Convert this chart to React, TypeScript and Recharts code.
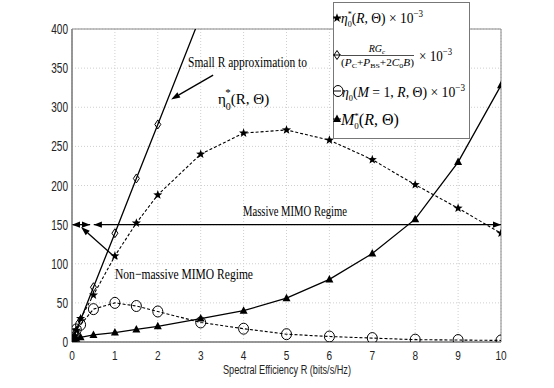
import React from 'react';
import { LineChart, Line, XAxis, YAxis, CartesianGrid, ReferenceLine, ReferenceArea, Legend } from 'recharts';

// spectral efficiency R (bits/s/Hz) sample points
const rPoints = [0, 0.05, 0.1, 0.2, 0.5, 1, 1.5, 2, 3, 4, 5, 6, 7, 8, 9, 10];
const etaStar = [0, 7, 15, 30, 60, 110, 152, 188, 240, 267, 271, 258, 233, 201, 171, 139];
const etaSingle = [0, 10, 16, 22, 42, 50, 46, 39, 25, 17, 10, 7, 5, 3, 2.5, 2];
const mStar = [0, 2, 4, 6, 9, 12, 16, 20, 30, 40, 56, 80, 113, 157, 230, 328];

// small R approximation (straight line, leaves the plot above 400)
const approxR = [0, 0.05, 0.1, 0.2, 0.5, 1, 1.5, 2, 3];
const approxVals = [0, 7, 14, 28, 70, 139, 209, 278, 417];
const approxLastMarker = 2;

const xTicks = [0, 1, 2, 3, 4, 5, 6, 7, 8, 9, 10];
const yTicks = [0, 50, 100, 150, 200, 250, 300, 350, 400];

// regime arrows at M = 150
const regimeLevel = 150;
const nonMassiveEnds = [0, 0.42];
const massiveEnds = [0.51, 10];

// annotation pointers: [tail, tip] in data units
const approxPointer = [{ x: 3.29, y: 341 }, { x: 2.31, y: 310 }];
const nonMassivePointer = [{ x: 1.05, y: 106 }, { x: 0.21, y: 147 }];

const toPoints = (xs: number[], ys: number[]) => xs.map((x, i) => ({ x, y: ys[i] }));

const starData = toPoints(rPoints, etaStar);
const circleData = toPoints(rPoints, etaSingle);
const triData = toPoints(rPoints, mStar);
const diamondData = toPoints(approxR, approxVals);
const nonMassiveData = nonMassiveEnds.map((x) => ({ x, y: regimeLevel }));
const massiveData = massiveEnds.map((x) => ({ x, y: regimeLevel }));

const starPath = (cx: number, cy: number, ro: number, ri: number) => {
  const pts: string[] = [];
  for (let i = 0; i < 10; i++) {
    const r = i % 2 === 0 ? ro : ri;
    const a = -Math.PI / 2 + (i * Math.PI) / 5;
    pts.push(`${cx + r * Math.cos(a)},${cy + r * Math.sin(a)}`);
  }
  return pts.join(' ');
};

const StarMark = ({ cx, cy }: any) => <polygon points={starPath(cx, cy, 4.8, 2)} fill="#000" />;
const DiamondMark = ({ cx, cy }: any) => (
  <polygon points={`${cx},${cy - 4.5} ${cx + 3},${cy} ${cx},${cy + 4.5} ${cx - 3},${cy}`} fill="none" stroke="#000" strokeWidth={1} />
);
const CircleMark = ({ cx, cy }: any) => <ellipse cx={cx} cy={cy} rx={5} ry={5.5} fill="none" stroke="#000" strokeWidth={1} />;
const TriMark = ({ cx, cy }: any) => (
  <polygon points={`${cx},${cy - 4.5} ${cx + 4},${cy + 3} ${cx - 4},${cy + 3}`} fill="#000" />
);

const starDot = (p: any) => <StarMark key={p.index} cx={p.cx} cy={p.cy} />;
const circleDot = (p: any) => <CircleMark key={p.index} cx={p.cx} cy={p.cy} />;
const triDot = (p: any) => <TriMark key={p.index} cx={p.cx} cy={p.cy} />;
const diamondDot = (p: any) =>
  p.payload.x <= approxLastMarker ? <DiamondMark key={p.index} cx={p.cx} cy={p.cy} /> : <g key={p.index} />;

const arrowDot = (p: any) => {
  const { cx, cy, index } = p;
  const d = index === 0 ? 1 : -1; // first end points left, last end points right
  return <polygon key={index} points={`${cx},${cy} ${cx + d * 8},${cy - 3.2} ${cx + d * 8},${cy + 3.2}`} fill="#000" />;
};

const PointerArrow = (props: any) => {
  const { x1, y1, x2, y2 } = props;
  const ang = Math.atan2(y2 - y1, x2 - x1);
  const len = 9;
  const half = 3;
  const bx = x2 - len * Math.cos(ang);
  const by = y2 - len * Math.sin(ang);
  const px = -Math.sin(ang) * half;
  const py = Math.cos(ang) * half;
  return (
    <g>
      <line x1={x1} y1={y1} x2={bx} y2={by} stroke="#000" strokeWidth={1.3} />
      <polygon points={`${x2},${y2} ${bx + px},${by + py} ${bx - px},${by - py}`} fill="#000" />
    </g>
  );
};

const XTick = ({ x, y, payload }: any) => {
  const s = String(payload.value);
  return (
    <text x={x} y={y + 16} textAnchor="middle" fontFamily="Liberation Sans, Arial" fontSize={13} fill="#222"
      textLength={s.length * 5.6} lengthAdjust="spacingAndGlyphs">
      {s}
    </text>
  );
};

const YTick = ({ x, y, payload }: any) => {
  const s = String(payload.value);
  return (
    <text x={x - 2} y={y + 5} textAnchor="end" fontFamily="Liberation Sans, Arial" fontSize={14} fill="#222"
      textLength={s.length * 5.6} lengthAdjust="spacingAndGlyphs">
      {s}
    </text>
  );
};

const serif = 'Liberation Serif, Times New Roman, serif';

const LegendBox = () => (
  <svg width={137} height={137} style={{ display: 'block' }} fontFamily={serif}>
    <rect x={0.5} y={0.5} width={136} height={136} fill="#fff" stroke="#777" />
    <line x1={0} y1={16} x2={8} y2={16} stroke="#000" />
    <StarMark cx={4} cy={16} />
    <text x={8} y={21} fontSize={15} textLength={82} lengthAdjust="spacingAndGlyphs">
      <tspan fontStyle="italic">η</tspan>
      <tspan fontSize={9} dy={4}>0</tspan>
      <tspan fontSize={9} dx={-4.5} dy={-10}>*</tspan>
      <tspan fontSize={15} dy={6}>(</tspan>
      <tspan fontStyle="italic">R</tspan>
      <tspan>, Θ) × 10</tspan>
      <tspan fontSize={10} dy={-6}>−3</tspan>
    </text>

    <line x1={0} y1={53} x2={8} y2={53} stroke="#000" />
    <DiamondMark cx={4} cy={53} />
    <text x={44} y={50} fontSize={10} textAnchor="middle" fontStyle="italic">
      RG<tspan fontSize={7} dy={2}>c</tspan>
    </text>
    <line x1={8} y1={53.5} x2={81} y2={53.5} stroke="#000" strokeWidth={0.7} />
    <text x={8} y={64} fontSize={10} textLength={73} lengthAdjust="spacingAndGlyphs">
      <tspan>(</tspan>
      <tspan fontStyle="italic">P</tspan>
      <tspan fontSize={7} dy={2}>C</tspan>
      <tspan dy={-2}>+</tspan>
      <tspan fontStyle="italic">P</tspan>
      <tspan fontSize={7} dy={2}>BS</tspan>
      <tspan dy={-2}>+2</tspan>
      <tspan fontStyle="italic">C</tspan>
      <tspan fontSize={7} dy={2}>0</tspan>
      <tspan dy={-2} fontStyle="italic">B</tspan>
      <tspan>)</tspan>
    </text>
    <text x={86} y={59} fontSize={15} textLength={33} lengthAdjust="spacingAndGlyphs">
      × 10<tspan fontSize={10} dy={-6}>−3</tspan>
    </text>

    <line x1={0} y1={89} x2={8} y2={89} stroke="#000" />
    <CircleMark cx={5} cy={89} />
    <text x={9} y={95} fontSize={15} textLength={123} lengthAdjust="spacingAndGlyphs">
      <tspan fontStyle="italic">η</tspan>
      <tspan fontSize={9} dy={4}>0</tspan>
      <tspan dy={-4}>(</tspan>
      <tspan fontStyle="italic">M</tspan>
      <tspan> = 1, </tspan>
      <tspan fontStyle="italic">R</tspan>
      <tspan>, Θ) × 10</tspan>
      <tspan fontSize={10} dy={-6}>−3</tspan>
    </text>

    <line x1={0} y1={117} x2={8} y2={117} stroke="#000" />
    <TriMark cx={4} cy={117} />
    <text x={8} y={123} fontSize={16}>
      <tspan fontStyle="italic">M</tspan>
      <tspan fontSize={9} dy={4}>0</tspan>
      <tspan fontSize={9} dx={-4.5} dy={-10}>*</tspan>
      <tspan fontSize={16} dy={6}>(</tspan>
      <tspan fontStyle="italic">R</tspan>
      <tspan>, Θ)</tspan>
    </text>
  </svg>
);

export default function App() {
  return (
    <div style={{ position: 'fixed', left: 0, top: 0, width: 554, height: 388, background: '#fff' }}>
      <LineChart width={554} height={388} margin={{ top: 29, right: 53, bottom: 16, left: 32 }}>
        <CartesianGrid stroke="#cfcfcf" strokeDasharray="1 2" />
        <XAxis type="number" dataKey="x" domain={[0, 10]} ticks={xTicks} allowDataOverflow
          height={30} tickSize={0} tickLine={false} axisLine={{ stroke: '#888', strokeWidth: 1.5 }} tick={<XTick />} />
        <YAxis type="number" domain={[0, 400]} ticks={yTicks} allowDataOverflow
          width={40} tickSize={0} tickLine={false} axisLine={{ stroke: '#888', strokeWidth: 1.5 }} tick={<YTick />} />
        <ReferenceArea x1={0} x2={10} y1={0} y2={400} fill="none" stroke="#888" strokeWidth={1} />
        <Line data={diamondData} dataKey="y" stroke="#000" strokeWidth={1.3} dot={diamondDot} isAnimationActive={false} />
        <Line data={starData} dataKey="y" stroke="#000" strokeWidth={1.1} strokeDasharray="3 2" dot={starDot} isAnimationActive={false} />
        <Line data={circleData} dataKey="y" stroke="#000" strokeWidth={1.1} strokeDasharray="3 2" dot={circleDot} isAnimationActive={false} />
        <Line data={triData} dataKey="y" stroke="#000" strokeWidth={1.3} dot={triDot} isAnimationActive={false} />
        <Line data={nonMassiveData} dataKey="y" stroke="#000" strokeWidth={1.3} dot={arrowDot} isAnimationActive={false} />
        <Line data={massiveData} dataKey="y" stroke="#000" strokeWidth={1.3} dot={arrowDot} isAnimationActive={false} />
        <ReferenceLine segment={approxPointer} stroke="#000" shape={PointerArrow} />
        <ReferenceLine segment={nonMassivePointer} stroke="#000" shape={PointerArrow} />
        <Legend layout="vertical" verticalAlign="middle" align="center" content={LegendBox}
          wrapperStyle={{ left: 333, top: 2, width: 137, height: 137 }} />
      </LineChart>
      <svg width={554} height={388} style={{ position: 'absolute', left: 0, top: 0, pointerEvents: 'none' }}>
        <text x={188} y={67} fontFamily={serif} fontSize={15} textLength={119} lengthAdjust="spacingAndGlyphs">
          Small R approximation to
        </text>
        <text x={218} y={104} fontFamily={serif} fontSize={15}>
          η<tspan fontSize={10} dy={6}>0</tspan>
          <tspan fontSize={11} dx={-5.5} dy={-14}>*</tspan>
          <tspan fontSize={15} dy={8}>(R, Θ)</tspan>
        </text>
        <text x={243} y={216} fontFamily={serif} fontSize={15} textLength={104} lengthAdjust="spacingAndGlyphs">
          Massive MIMO Regime
        </text>
        <text x={115} y={279} fontFamily={serif} fontSize={15} textLength={138} lengthAdjust="spacingAndGlyphs">
          Non−massive MIMO Regime
        </text>
        <text x={223} y={374} fontFamily="Liberation Sans, Arial" fontSize={12} fill="#222" textLength={128} lengthAdjust="spacingAndGlyphs">
          Spectral Efficiency R (bits/s/Hz)
        </text>
      </svg>
    </div>
  );
}
